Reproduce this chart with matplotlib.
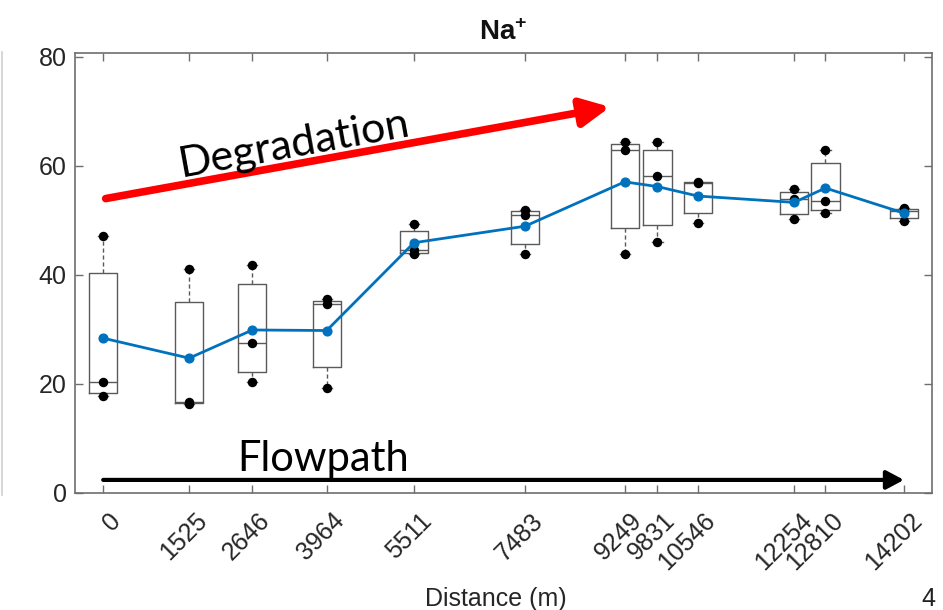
import numpy as np
import matplotlib
matplotlib.use("Agg")
import matplotlib.pyplot as plt
from matplotlib.transforms import ScaledTranslation, blended_transform_factory

plt.rcParams['font.family'] = ['Liberation Sans', 'DejaVu Sans']
plt.rcParams['mathtext.fontset'] = 'custom'
plt.rcParams['mathtext.rm'] = 'Liberation Sans'
plt.rcParams['mathtext.bf'] = 'Liberation Sans:bold'

# Sampling stations along the flow path (m)
distance = [0, 1525, 2646, 3964, 5511, 7483, 9249, 9831, 10546, 12254, 12810, 14202]
tick_labels = [str(d) for d in distance]

# Na+ measurements at each station (three samples each)
na_samples = [
    [17.7, 20.4, 47.1],
    [16.4, 16.7, 41.1],
    [20.3, 27.6, 41.8],
    [19.3, 34.6, 35.5],
    [43.9, 44.5, 49.3],
    [43.9, 51.0, 51.9],
    [43.8, 63.0, 64.4],
    [46.1, 58.1, 64.4],
    [49.5, 56.9, 57.0],
    [50.2, 54.0, 55.7],
    [51.3, 53.6, 62.9],
    [49.9, 51.8, 52.3],
]

title_text = 'Na$^{\\mathbf{+}}$'
x_label = 'Distance (m)'
y_ticks = [0, 20, 40, 60, 80]

# annotation arrows (data coordinates)
degradation_start = (44, 54.0)
degradation_end = (8990, 70.8)
flowpath_y = 2.4

fig = plt.figure(figsize=(9.43, 6.10), dpi=100)
ax = fig.add_axes([75 / 943, 1 - 493 / 610, (932 - 75) / 943, (493 - 53) / 610])

# box statistics with MATLAB-style (hazen) quartiles
stats = []
for vals in na_samples:
    v = np.array(vals)
    q1, med, q3 = np.percentile(v, [25, 50, 75], method='hazen')
    iqr = q3 - q1
    lo = v[v >= q1 - 1.5 * iqr].min()
    hi = v[v <= q3 + 1.5 * iqr].max()
    stats.append(dict(med=med, q1=q1, q3=q3, whislo=lo, whishi=hi, fliers=[]))

box_color = '#5a5a5a'
ax.bxp(stats, positions=distance, widths=500, capwidths=180,
       showfliers=False, manage_ticks=False,
       boxprops=dict(color=box_color, lw=1.0),
       medianprops=dict(color=box_color, lw=1.0),
       whiskerprops=dict(color=box_color, lw=1.0, linestyle=(0, (3, 2))),
       capprops=dict(color=box_color, lw=1.0))

# individual samples
for d, vals in zip(distance, na_samples):
    ax.plot([d] * len(vals), vals, 'o', color='black', ms=5.8, zorder=4)

# station means
means = [np.mean(v) for v in na_samples]
ax.plot(distance, means, '-o', color='#0072BD', lw=2.0, ms=6.3, zorder=5)

ax.set_xlim(-500, 14700)
ax.set_ylim(0, 80.7)
ax.set_yticks(y_ticks)
ax.set_xticks(distance)
ax.set_xticklabels([])

# rotated distance labels, anchored at their upper-right corner
label_tf = blended_transform_factory(ax.transData, ax.transAxes) + \
    ScaledTranslation(4 / 72, -11.2 / 72, fig.dpi_scale_trans)
for d, lab in zip(distance, tick_labels):
    ax.text(d, 0, lab, transform=label_tf, rotation=45, rotation_mode='anchor',
            ha='right', va='top', fontsize=18, color='#262626', clip_on=False)

spine_color = '#6e6e6e'
for s in ax.spines.values():
    s.set_color(spine_color)
    s.set_linewidth(1.2)
ax.tick_params(direction='in', length=6, width=1.0, color=spine_color,
               top=True, right=True, labelsize=18, labelcolor='#262626')
ax.tick_params(axis='y', pad=6)

ax.set_title(title_text, fontsize=20, fontweight='bold', pad=9, color='#111111')
ax.set_xlabel(x_label, fontsize=18, color='#262626')
ax.xaxis.set_label_coords(0.491, -0.214)

# trend annotations
ax.annotate('', xy=degradation_end, xytext=degradation_start,
            arrowprops=dict(arrowstyle='-|>,head_length=0.85,head_width=0.42',
                            color='#ff0000', lw=5.5, mutation_scale=20,
                            shrinkA=0, shrinkB=0), zorder=6)
ax.text(3380, 64.0, 'Degradation', family='Lato', fontsize=31, rotation=10.3,
        rotation_mode='anchor', ha='center', va='center', color='black', zorder=6)

ax.annotate('', xy=(distance[-1], flowpath_y), xytext=(distance[0], flowpath_y),
            arrowprops=dict(arrowstyle='-|>,head_length=0.75,head_width=0.4',
                            color='black', lw=3, mutation_scale=14,
                            shrinkA=0, shrinkB=0), zorder=6)
ax.text(3900, 4.0, 'Flowpath', family='Lato', fontsize=30,
        ha='center', va='baseline', color='black', zorder=6)

# slide border line and page number
fig.add_artist(plt.Line2D([1.5 / 943, 1.5 / 943], [1 - 495 / 610, 1 - 52 / 610],
                          color='#cfcfcf', lw=1.2))
fig.text(921 / 943, 1 - 606 / 610, '4', fontsize=18, color='#222222', va='baseline')

fig.savefig('out.png', dpi=100)
